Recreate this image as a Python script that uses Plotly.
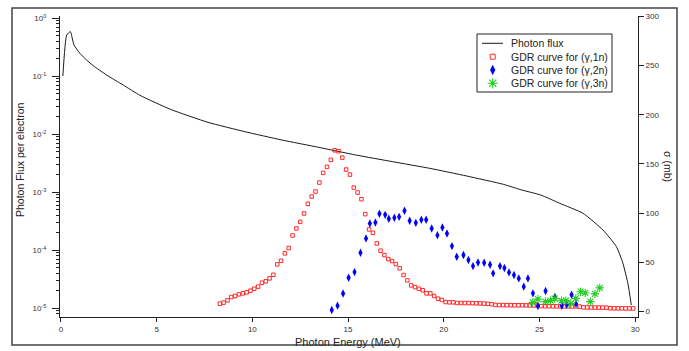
import plotly.graph_objects as go

# ---- Photon flux (left, log axis) ----
flux_energy = [0.10, 0.30, 0.49, 0.68, 0.99, 1.34, 1.69, 2.39, 3.25, 4.13, 5.74, 7.68, 9.61,
               11.54, 13.47, 15.40, 17.34, 19.27, 21.20, 23.13, 24.06, 25.07, 26.06, 27.27,
               28.32, 29.02, 29.36, 29.62, 29.80]
flux_value = [0.101, 0.515, 0.589, 0.347, 0.249, 0.191, 0.152, 0.105, 0.0708, 0.047, 0.0268,
              0.0161, 0.0111, 0.00798, 0.00596, 0.00440, 0.00337, 0.00259, 0.00191, 0.00137,
              0.00110, 0.000898, 0.000646, 0.000436, 0.000224, 0.000116, 0.00006, 0.000027,
              0.0000114]

# ---- GDR (gamma,1n) (right axis, mb) ----
g1n_energy = [8.3, 8.5, 8.7, 8.9, 9.1, 9.3, 9.5, 9.7, 9.9, 10.1, 10.3, 10.5, 10.7, 10.9, 11.1,
              11.3, 11.5, 11.7, 11.9, 12.1, 12.3, 12.5, 12.7, 12.9, 13.1, 13.3, 13.5, 13.7,
              13.9, 14.1, 14.3, 14.5, 14.7, 14.9, 15.1, 15.3, 15.5, 15.7, 15.9, 16.1, 16.3,
              16.5, 16.7, 16.9, 17.1, 17.3, 17.5, 17.7, 17.9, 18.1, 18.3, 18.5, 18.7, 18.9,
              19.1, 19.3, 19.5, 19.7, 19.9, 20.1, 20.3, 20.5, 20.7, 20.9, 21.1, 21.3, 21.5,
              21.7, 21.9, 22.1, 22.3, 22.5, 22.7, 22.9, 23.1, 23.3, 23.5, 23.7, 23.9, 24.1,
              24.3, 24.5, 24.7, 24.9, 25.1, 25.3, 25.5, 25.7, 25.9, 26.1, 26.3, 26.5, 26.7,
              26.9, 27.1, 27.3, 27.5, 27.7, 27.9, 28.1, 28.3, 28.5, 28.7, 28.9, 29.1, 29.3,
              29.5, 29.7, 29.9]
g1n_sigma = [8.1, 9.2, 11.5, 14.9, 15.9, 17.6, 18.6, 19.6, 21.3, 23.3, 25.4, 29.4, 30.8, 33.8,
             37.5, 48.0, 51.7, 59.2, 64.6, 77.4, 84.5, 91.2, 99.7, 109.5, 116.9, 122.0, 131.1,
             140.9, 147.0, 154.1, 163.9, 162.9, 156.4, 144.3, 139.2, 126.0, 121.0, 114.2, 99.0,
             83.5, 80.1, 69.3, 61.9, 57.5, 53.4, 51.4, 48.3, 44.0, 37.2, 31.8, 26.7, 25.0, 23.3,
             21.7, 18.6, 18.6, 15.9, 13.2, 11.9, 9.8, 9.5, 9.5, 8.8, 8.8, 8.8, 8.8, 8.6, 8.5,
             8.4, 8.2, 8.0, 7.6, 6.8, 6.7, 6.7, 6.6, 6.6, 6.5, 6.5, 6.5, 6.4, 6.4, 6.3, 6.3,
             5.6, 5.5, 5.5, 5.5, 5.4, 5.4, 5.4, 5.3, 5.3, 5.3, 5.2, 4.4, 4.3, 4.3, 4.2, 4.2,
             4.1, 4.1, 3.5, 3.4, 3.4, 3.4, 3.3, 3.3, 3.3]

# ---- GDR (gamma,2n) ----
g2n_energy = [14.15, 14.45, 14.74, 15.03, 15.34, 15.65, 15.94, 16.14, 16.43, 16.64, 16.94, 17.13,
              17.42, 17.67, 17.95, 18.22, 18.54, 18.83, 19.08, 19.37, 19.67, 19.93, 20.17, 20.43,
              20.68, 21.03, 21.29, 21.53, 21.79, 22.11, 22.42, 22.58, 22.94, 23.17, 23.41, 23.67,
              23.92, 24.18, 24.40, 24.66, 24.92, 25.32, 25.81, 26.17, 26.43, 26.68, 26.91]
g2n_sigma = [1.7, 6.1, 18.4, 34.5, 40.2, 59.8, 74.4, 89.6, 90.6, 99.4, 98.3, 94.3, 95.3, 96.3,
             102.4, 92.3, 90.2, 93.3, 93.3, 84.5, 77.7, 85.5, 79.4, 66.6, 55.8, 57.6, 52.4, 46.3,
             50.0, 49.7, 47.7, 38.9, 46.3, 44.3, 39.9, 37.2, 33.8, 25.4, 33.8, 18.6, 5.8, 21.0,
             14.9, 6.0, 7.2, 17.2, 8.1]

# ---- GDR (gamma,3n) ----
g3n_energy = [24.65, 24.92, 25.31, 25.58, 25.80, 26.15, 26.38, 26.64, 26.90, 27.15, 27.39, 27.66,
              27.90, 28.15]
g3n_sigma = [9.4, 12.7, 10.2, 11.2, 13.3, 11.1, 11.2, 8.3, 13.5, 20.3, 19.0, 10.2, 18.1, 24.2]

series_names = ["Photon flux", "GDR curve for (γ,1n)", "GDR curve for (γ,2n)",
                "GDR curve for (γ,3n)"]

x_ticks = [0, 5, 10, 15, 20, 25, 30]
left_exps = [0, -1, -2, -3, -4, -5]
right_ticks = [0, 50, 100, 150, 200, 250, 300]

FONT = "Liberation Sans, Arial, sans-serif"
TXT = "#222222"
C_LINE = "#1a1a1a"
C_RED = "#ff2a2a"
C_BLUE = "#0000ff"
C_GREEN = "#22cc22"

# plot area in pixels: x 60..638, y 16..317
L, R, T, B = 60, 638, 16, 317


def px(x):
    return (x - L) / (R - L)


def py(y):
    return (B - y) / (B - T)


red_marker = dict(symbol="square-open", size=3.5, color=C_RED, line=dict(width=1, color=C_RED))
blue_marker = dict(symbol="diamond-tall", size=6, color=C_BLUE)
green_marker = dict(symbol="asterisk-open", size=7, color=C_GREEN,
                    line=dict(width=1.1, color=C_GREEN))

fig = go.Figure()
fig.add_trace(go.Scatter(x=flux_energy, y=flux_value, mode="lines", name=series_names[0],
                         line=dict(color=C_LINE, width=1, shape="spline", smoothing=0.5),
                         yaxis="y"))
fig.add_trace(go.Scatter(x=g1n_energy, y=g1n_sigma, mode="markers", name=series_names[1],
                         marker=red_marker, yaxis="y2"))
fig.add_trace(go.Scatter(x=g2n_energy, y=g2n_sigma, mode="markers", name=series_names[2],
                         marker=blue_marker, yaxis="y2"))
fig.add_trace(go.Scatter(x=g3n_energy, y=g3n_sigma, mode="markers", name=series_names[3],
                         marker=green_marker, yaxis="y2"))

# ---- compact legend (box, keys, labels) on a hidden pixel-space overlay ----
leg_rows = [43.3, 56.7, 70.0, 83.3]
key_x = 492.7
fig.add_shape(type="rect", xref="paper", yref="paper",
              x0=px(477), x1=px(612), y0=py(92), y1=py(34),
              line=dict(color="#222222", width=1), fillcolor="white", layer="below")
fig.add_shape(type="line", xref="paper", yref="paper",
              x0=px(482), x1=px(503), y0=py(leg_rows[0]), y1=py(leg_rows[0]),
              line=dict(color=C_LINE, width=1))
for row, mk in zip(leg_rows[1:], [red_marker, blue_marker, green_marker]):
    m = dict(mk)
    m["size"] = mk["size"] + 1.5
    fig.add_trace(go.Scatter(x=[key_x], y=[row], mode="markers", marker=m, xaxis="x2",
                             yaxis="y3", showlegend=False, hoverinfo="skip"))
for row, name in zip(leg_rows, series_names):
    fig.add_annotation(text=name, xref="paper", yref="paper", x=px(509), y=py(row),
                       xanchor="left", yanchor="middle", showarrow=False,
                       font=dict(family=FONT, size=10.5, color=TXT))

minor_vals = [m * 10.0 ** e for e in range(-6, 1) for m in range(2, 10)]

fig.update_layout(
    width=689, height=351,
    margin=dict(l=L, r=689 - R, t=T, b=351 - B),
    paper_bgcolor="white", plot_bgcolor="white",
    font=dict(family=FONT, size=8, color=TXT),
    showlegend=False,
    xaxis=dict(range=[-0.05, 30.15], showline=True, linecolor="#222222", linewidth=1,
               showgrid=False, zeroline=False, ticks="outside", ticklen=4, tickcolor="#222222",
               tickvals=x_ticks, tickfont=dict(size=8, color="#333333")),
    xaxis2=dict(overlaying="x", range=[L, R], visible=False, fixedrange=True),
    yaxis=dict(type="log", range=[-5.15, 0.04], showline=True, linecolor="#222222",
               linewidth=1, showgrid=False, zeroline=False, ticks="outside", ticklen=7,
               tickcolor="#222222", ticklabelstandoff=4,
               tickvals=[10.0 ** e for e in left_exps],
               ticktext=["10<sup>%d</sup>" % e for e in left_exps],
               tickfont=dict(size=8, color="#333333"),
               minor=dict(tickmode="array", tickvals=minor_vals, ticks="outside", ticklen=3,
                          tickcolor="#222222", showgrid=False)),
    yaxis2=dict(overlaying="y", side="right", anchor="x", range=[-5.4, 300.2],
                showline=True, linecolor="#222222", linewidth=1, showgrid=False,
                zeroline=False, ticks="outside", ticklen=5, tickcolor="#222222",
                tickvals=right_ticks, tickfont=dict(size=8, color="#333333")),
    yaxis3=dict(overlaying="y", anchor="x2", range=[B, T], visible=False, fixedrange=True),
)

# axis titles
fig.add_annotation(text="Photon Flux per electron", xref="paper", yref="paper",
                   x=px(20), y=py(160), xanchor="center", yanchor="middle",
                   showarrow=False, textangle=-90,
                   font=dict(family=FONT, size=10.5, color=TXT))
fig.add_annotation(text="σ (mb)", xref="paper", yref="paper",
                   x=px(668), y=py(166), xanchor="center", yanchor="middle",
                   showarrow=False, textangle=90,
                   font=dict(family=FONT, size=10.5, color=TXT))
fig.add_annotation(text="Photon Energy (MeV)", xref="paper", yref="paper",
                   x=px(348), y=py(342), xanchor="center", yanchor="middle", showarrow=False,
                   font=dict(family=FONT, size=11, color=TXT))

# outer frame
fig.add_shape(type="rect", xref="paper", yref="paper",
              x0=px(12), x1=px(677), y0=py(345), y1=py(8),
              line=dict(color="#444444", width=1.5), fillcolor="rgba(0,0,0,0)", layer="above")

fig.write_html("out.html")
